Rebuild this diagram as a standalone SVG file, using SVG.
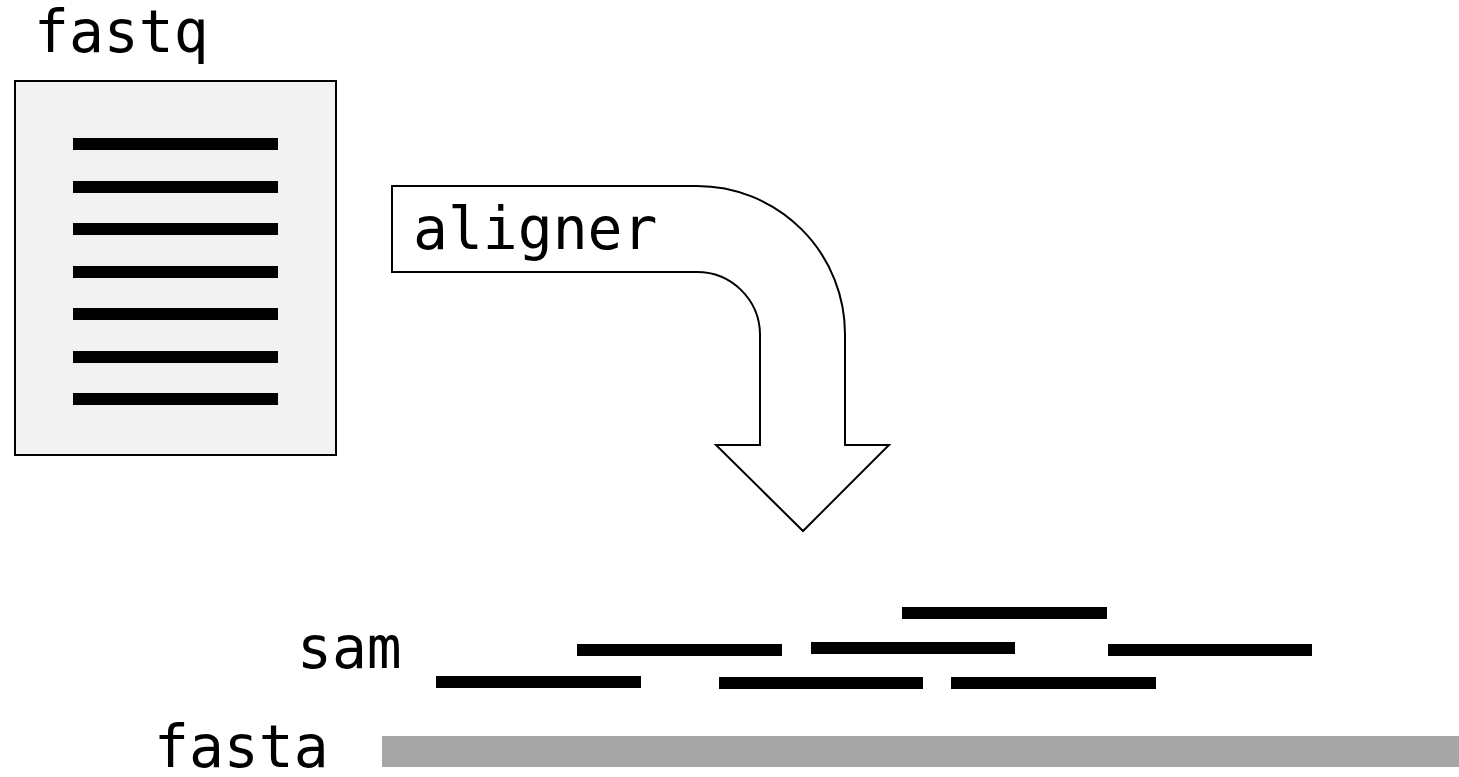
<svg xmlns="http://www.w3.org/2000/svg" width="1459" height="777" viewBox="0 0 1459 777">
<style>
.lbl{font-family:"DejaVu Sans Mono","Liberation Mono",monospace;font-size:58px;fill:#000}
.ln{fill:#000}
.rd{fill:#000}
</style>
<rect width="1459" height="777" fill="#fff"/>
<g id="fastq">
<text class="lbl" x="34" y="52">fastq</text>
<rect x="15" y="81" width="321" height="374" fill="#f2f2f2" stroke="#000" stroke-width="2"/>
<rect class="ln" x="73" y="138" width="205" height="12"/>
<rect class="ln" x="73" y="181" width="205" height="12"/>
<rect class="ln" x="73" y="223" width="205" height="12"/>
<rect class="ln" x="73" y="266" width="205" height="12"/>
<rect class="ln" x="73" y="308" width="205" height="12"/>
<rect class="ln" x="73" y="351" width="205" height="12"/>
<rect class="ln" x="73" y="393" width="205" height="12"/>
</g>
<g id="connectors">
<g id="aligner">
<path d="M392,186 H697 A148,148 0 0 1 845,334 V445 H889 L803,531 L716,445 H760 V334 A63,63 0 0 0 697,272 H392 Z" fill="#fff" stroke="#000" stroke-width="2"/>
<text class="lbl" x="413" y="249">aligner</text>
</g>
</g>
<g id="sam">
<text class="lbl" x="297" y="668">sam</text>
<rect class="rd" x="902" y="607" width="205" height="12"/>
<rect class="rd" x="577" y="644" width="205" height="12"/>
<rect class="rd" x="811" y="642" width="204" height="12"/>
<rect class="rd" x="1108" y="644" width="204" height="12"/>
<rect class="rd" x="436" y="676" width="205" height="12"/>
<rect class="rd" x="719" y="677" width="204" height="12"/>
<rect class="rd" x="951" y="677" width="205" height="12"/>
</g>
<g id="fasta">
<text class="lbl" x="154" y="767">fasta</text>
<rect x="382" y="736" width="1077" height="31" fill="#a6a6a6"/>
</g>
</svg>
